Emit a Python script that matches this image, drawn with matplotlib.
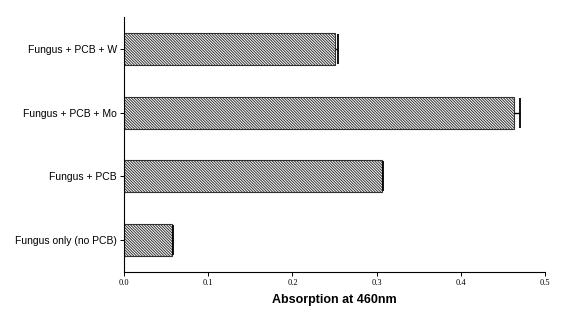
import matplotlib
matplotlib.use("Agg")
import matplotlib.pyplot as plt
import numpy as np

labels = ["Fungus only (no PCB)", "Fungus + PCB", "Fungus + PCB + Mo", "Fungus + PCB + W"]
values = [0.0566, 0.307, 0.4635, 0.251]
errors = [0.002, 0.001, 0.0065, 0.003]

plt.rcParams["hatch.linewidth"] = 0.7
fig = plt.figure(figsize=(5.63, 3.12), dpi=100)
ax = fig.add_axes([0.2203, 0.128, 0.7477, 0.8175])

y = np.arange(len(labels))
ax.barh(y, values, height=0.5, color="white", edgecolor="#333333",
        hatch="\\" * 12, linewidth=0.8)
eb = ax.errorbar(values, y, xerr=[np.zeros(len(errors)), errors], fmt="none",
                 ecolor="black", elinewidth=1.0, capsize=10.5, capthick=1.3)
# one-sided bars: hide the cap sitting on the bar end
eb[1][0].set_visible(False)

ax.set_xlim(0, 0.5)
ax.set_ylim(-0.5, 3.5)
ax.set_yticks(y)
ax.set_yticklabels(labels, fontsize=7.5, family="Liberation Sans")
ax.set_xticks([0.0, 0.1, 0.2, 0.3, 0.4, 0.5])
ax.set_xticklabels(["0.0", "0.1", "0.2", "0.3", "0.4", "0.5"], fontsize=6,
                   family="Liberation Serif")
ax.tick_params(axis="both", length=3, width=0.7, pad=2)
ax.spines["top"].set_visible(False)
ax.spines["right"].set_visible(False)
ax.spines["left"].set_linewidth(0.8)
ax.spines["bottom"].set_linewidth(0.8)
ax.set_xlabel("Absorption at 460nm", fontsize=9, fontweight="bold",
              family="Liberation Sans", labelpad=5)

fig.savefig("out.png", dpi=100)
